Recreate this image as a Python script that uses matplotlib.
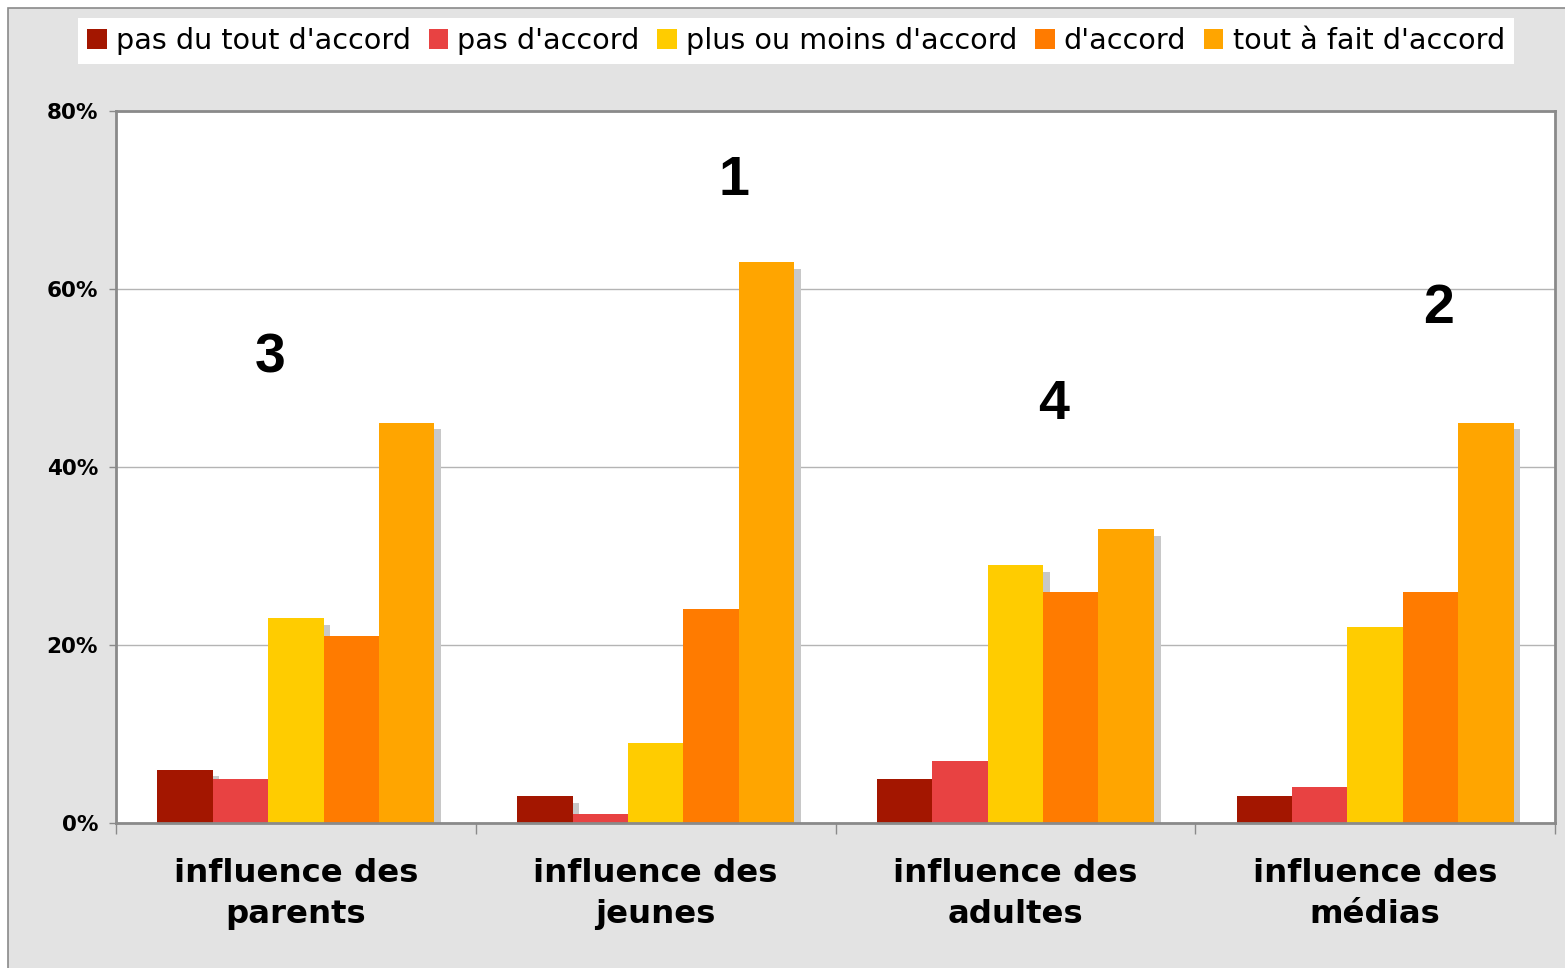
import matplotlib
matplotlib.use("Agg")
import matplotlib.pyplot as plt
import matplotlib.patheffects as pe
from matplotlib.patches import Rectangle
import numpy as np

categories = ["influence des\nparents", "influence des\njeunes", "influence des\nadultes", "influence des\nmédias"]
series_names = ["pas du tout d'accord", "pas d'accord", "plus ou moins d'accord", "d'accord", "tout à fait d'accord"]
values = [
    [6, 3, 5, 3],      # pas du tout d'accord
    [5, 1, 7, 4],      # pas d'accord
    [23, 9, 29, 22],   # plus ou moins d'accord
    [21, 24, 26, 26],  # d'accord
    [45, 63, 33, 45],  # tout à fait d'accord
]
colors = ["#a31600", "#e84242", "#ffcc00", "#ff7b00", "#ffa500"]
ranks = ["3", "1", "4", "2"]
rank_x_offsets = [-0.072, 0.217, 0.106, 0.175]
rank_y = [52.2, 72.1, 47.0, 57.8]
yticks = [0, 20, 40, 60, 80]
ytick_labels = ["0%", "20%", "40%", "60%", "80%"]

W, H = 1565, 968
fig = plt.figure(figsize=(W / 100, H / 100), dpi=100)
fig.patch.set_facecolor("white")
bg = Rectangle((8 / W, -0.02), 1.05, 1 - 8 / H + 0.02, transform=fig.transFigure,
               facecolor="#e3e3e3", edgecolor="#8a8a8a", linewidth=1.2, zorder=-10)
fig.patches.append(bg)

ax = fig.add_axes([116 / W, 1 - 823 / H, (1555 - 116) / W, (823 - 111) / H])
ax.set_facecolor("white")

n = len(series_names)
bw = 0.154
x = np.arange(len(categories))
shadow = [pe.SimplePatchShadow(offset=(4.8, -4.8), shadow_rgbFace="#c8c8c8", alpha=1.0), pe.Normal()]
for i, (name, vals, c) in enumerate(zip(series_names, values, colors)):
    pos = x + (i - (n - 1) / 2) * bw
    bars = ax.bar(pos, vals, width=bw, color=c, label=name, zorder=3, linewidth=0)
    for b in bars:
        b.set_path_effects(shadow)

ax.set_xlim(-0.5, len(categories) - 0.5)
ax.set_ylim(0, 80)
ax.set_yticks(yticks)
ax.set_yticklabels(ytick_labels, fontsize=15.5, fontweight="bold")
ax.yaxis.grid(True, color="#b4b4b4", linewidth=1.0, zorder=0)
ax.set_axisbelow(True)

ax.set_xticks(np.arange(len(categories) + 1) - 0.5)
ax.set_xticklabels([])
ax.set_xticks(x, minor=True)
ax.set_xticklabels(categories, minor=True, fontsize=23.3, fontweight="bold", linespacing=1.42)
ax.tick_params(axis="x", which="major", length=8, color="#8a8a8a", width=1, direction="out")
ax.tick_params(axis="x", which="minor", length=0, pad=25)
ax.tick_params(axis="y", length=5, color="#8a8a8a", width=1, pad=8)

for s in ax.spines.values():
    s.set_color("#8a8a8a")
    s.set_linewidth(2)
    s.set_zorder(5)

for xi, r, dx, yy in zip(x, ranks, rank_x_offsets, rank_y):
    ax.text(xi + dx, yy, r, fontsize=40, fontweight="bold", ha="center", va="center", zorder=6,
            family=["Liberation Sans", "DejaVu Sans"])

handles, labels = ax.get_legend_handles_labels()
leg = fig.legend(handles, labels, loc="center", bbox_to_anchor=(796 / W, 1 - 41 / H), ncol=5,
                 fontsize=20.6, frameon=True, fancybox=False, framealpha=1.0,
                 handlelength=0.68, handleheight=0.68,
                 handletextpad=0.32, columnspacing=0.62, borderpad=0.33, borderaxespad=0)
leg.get_frame().set_facecolor("white")
leg.get_frame().set_edgecolor("white")
leg.get_frame().set_linewidth(0)
for h in leg.legend_handles:
    h.set_path_effects([])

fig.savefig("out.png", dpi=100)
